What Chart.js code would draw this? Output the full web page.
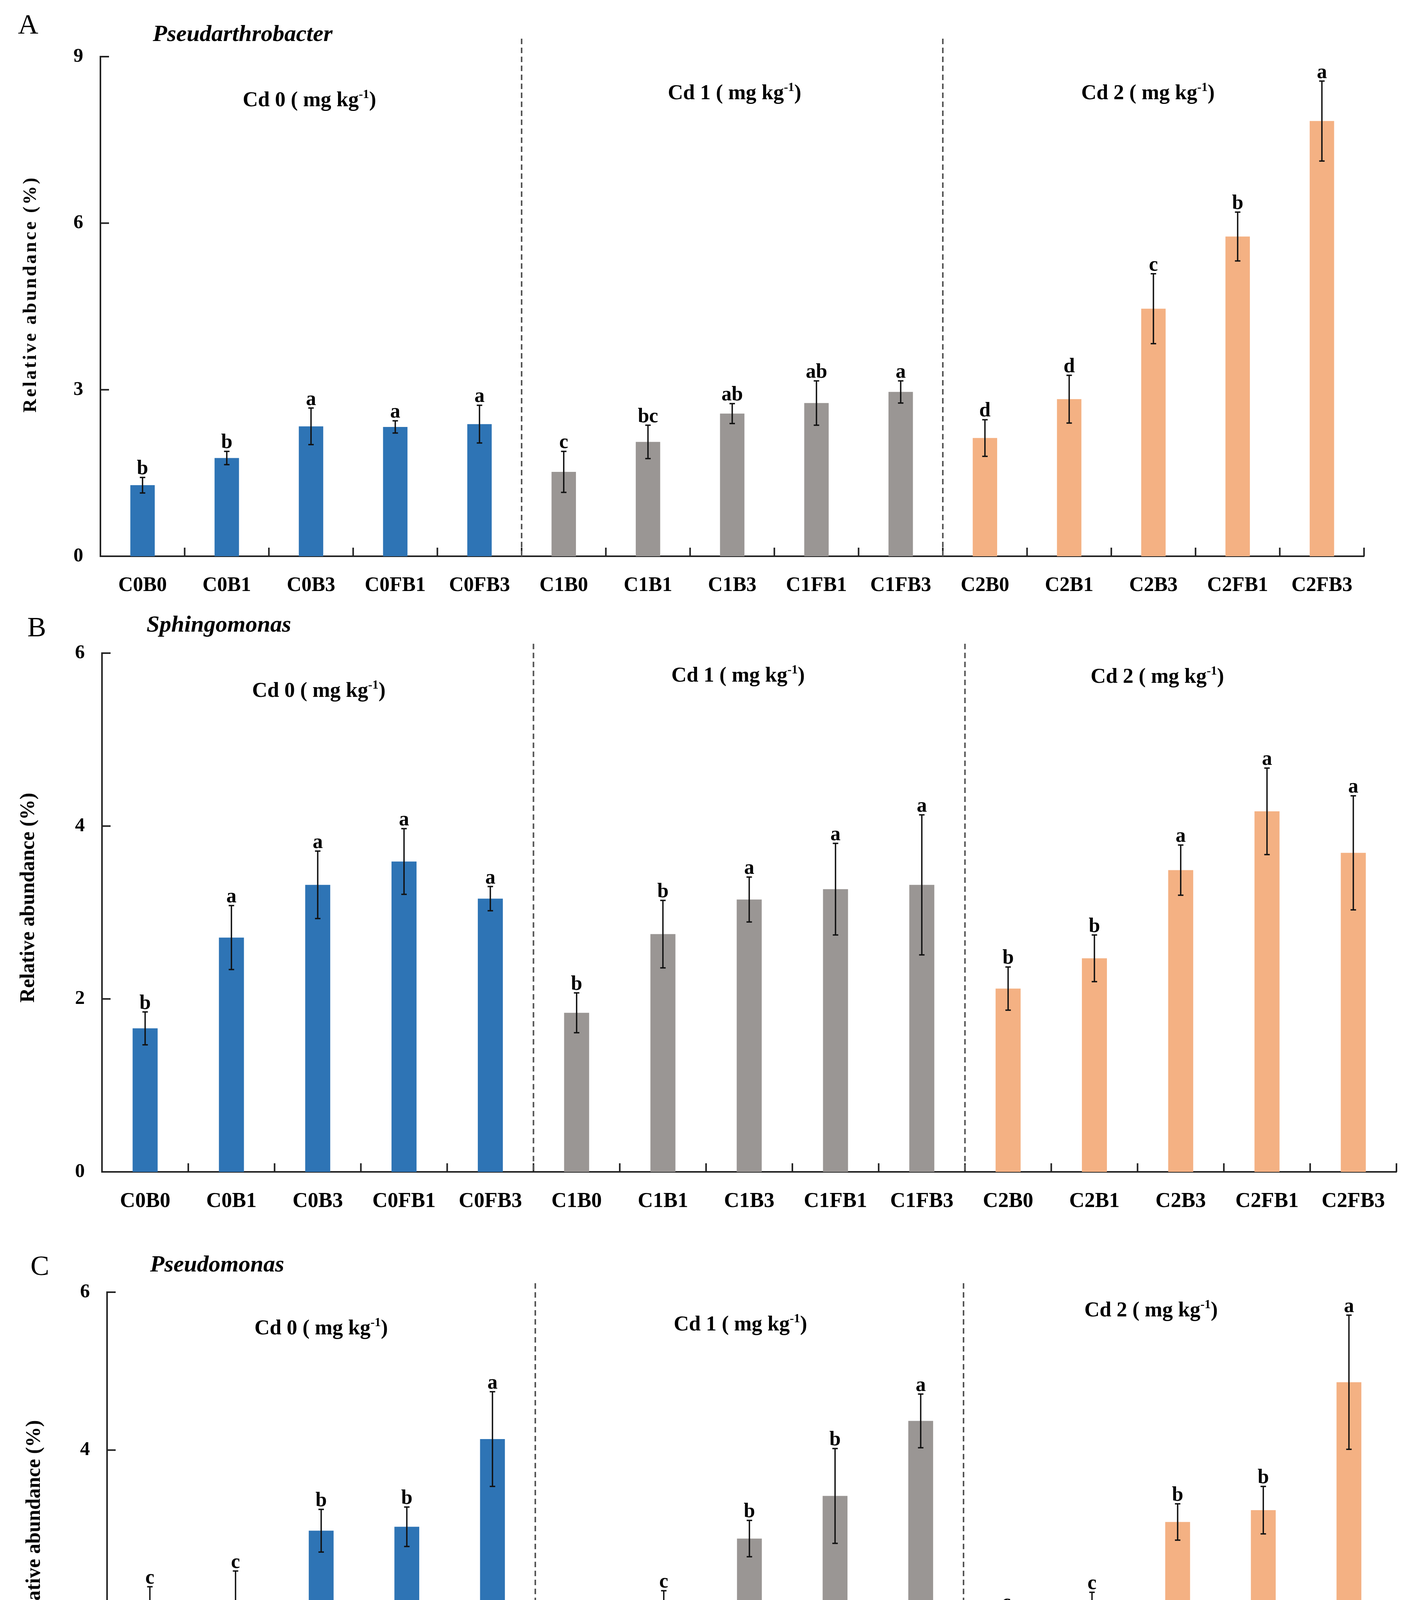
<!DOCTYPE html>
<html>
<head>
<meta charset="utf-8">
<script src="https://cdn.jsdelivr.net/npm/chart.js@4.4.1/dist/chart.umd.min.js"></script>
<style>
  html, body { margin: 0; padding: 0; background: #fff; overflow: hidden; }
  #wrap { position: relative; width: 3601px; height: 4638px; background: #fff; }
  canvas { position: absolute; left: 0; }
</style>
</head>
<body>
<div id="wrap">
  <canvas id="panelA" width="3601" height="1560" style="top:0px"></canvas>
  <canvas id="panelB" width="3601" height="1600" style="top:1560px"></canvas>
  <canvas id="panelC" width="3601" height="1478" style="top:3160px"></canvas>
</div>
<script>
// ── data ────────────────────────────────────────────────
const categories = ['C0B0', 'C0B1', 'C0B3', 'C0FB1', 'C0FB3',
                    'C1B0', 'C1B1', 'C1B3', 'C1FB1', 'C1FB3',
                    'C2B0', 'C2B1', 'C2B3', 'C2FB1', 'C2FB3'];
const groupNames = ['Cd 0', 'Cd 1', 'Cd 2'];

// A: Pseudarthrobacter
const meansA   = [1.28, 1.77, 2.34, 2.33, 2.38, 1.52, 2.06, 2.57, 2.76, 2.96, 2.13, 2.83, 4.46, 5.76, 7.84];
const errorsA  = [0.14, 0.12, 0.33, 0.11, 0.34, 0.37, 0.30, 0.18, 0.40, 0.20, 0.33, 0.43, 0.63, 0.44, 0.72];
const lettersA = ['b', 'b', 'a', 'a', 'a', 'c', 'bc', 'ab', 'ab', 'a', 'd', 'd', 'c', 'b', 'a'];
const ticksA   = [0, 3, 6, 9];

// B: Sphingomonas
const meansB   = [1.66, 2.71, 3.32, 3.59, 3.16, 1.84, 2.75, 3.15, 3.27, 3.32, 2.12, 2.47, 3.49, 4.17, 3.69];
const errorsB  = [0.19, 0.37, 0.39, 0.38, 0.14, 0.23, 0.39, 0.26, 0.53, 0.81, 0.25, 0.27, 0.29, 0.50, 0.66];
const lettersB = ['b', 'a', 'a', 'a', 'a', 'b', 'b', 'a', 'a', 'a', 'b', 'b', 'a', 'a', 'a'];
const ticksB   = [0, 2, 4, 6];

// C: Pseudomonas
const meansC   = [1.87, 2.06, 2.98, 3.03, 4.14, 1.57, 1.91, 2.88, 3.42, 4.37, 1.60, 1.87, 3.09, 3.24, 4.86];
const errorsC  = [0.40, 0.41, 0.27, 0.25, 0.60, 0.30, 0.31, 0.23, 0.60, 0.34, 0.36, 0.33, 0.23, 0.30, 0.85];
const lettersC = ['c', 'c', 'b', 'b', 'a', 'c', 'c', 'b', 'b', 'a', 'c', 'c', 'b', 'b', 'a'];
const ticksC   = [0, 2, 4, 6];

// ── style ───────────────────────────────────────────────
const SERIF = '"Liberation Serif", "Times New Roman", serif';
const GROUP_COLORS = ['#2E74B5', '#9A9694', '#F4B183'];

// panel layout (canvas-local pixels)
const panels = [
  { id: 'panelA', tag: 'A', genus: 'Pseudarthrobacter', means: meansA, errors: errorsA, letters: lettersA, ticks: ticksA,
    area: { left: 257, right: 3491, top: 145, bottom: 1424 }, h: 1560,
    tagPos: [46, 86], genusPos: [391, 105], dashTop: 99,
    groupPos: [[792, 258], [1880, 240], [2938, 240]],
    yTitle: { x: 80, y: 753, size: 48, spacing: '5px' }, xFont: 52 },
  { id: 'panelB', tag: 'B', genus: 'Sphingomonas', means: meansB, errors: errorsB, letters: lettersB, ticks: ticksB,
    area: { left: 261, right: 3574, top: 112, bottom: 1440 }, h: 1600,
    tagPos: [70, 69], genusPos: [375, 57], dashTop: 88,
    groupPos: [[816, 210], [1889, 171], [2962, 174]],
    yTitle: { x: 74, y: 738, size: 52, spacing: '0px' }, xFont: 54 },
  { id: 'panelC', tag: 'C', genus: 'Pseudomonas', means: meansC, errors: errorsC, letters: lettersC, ticks: ticksC,
    area: { left: 274, right: 3562, top: 148, bottom: 1361 }, h: 1478,
    tagPos: [78, 104], genusPos: [384, 95], dashTop: 125,
    groupPos: [[822, 242], [1895, 232], [2946, 196]],
    yTitle: { x: 89, y: 744, size: 52, spacing: '0px' }, xFont: 54 }
];

function drawGroupLabel(ctx, name, cx, cy) {
  const main = name + ' ( mg kg', sup = '-1', tail = ')';
  const big = 'bold 54px ' + SERIF, small = 'bold 32px ' + SERIF;
  ctx.font = big;  const w1 = ctx.measureText(main).width, w3 = ctx.measureText(tail).width;
  ctx.font = small; const w2 = ctx.measureText(sup).width;
  let x = cx - (w1 + w2 + w3) / 2;
  ctx.textAlign = 'left';
  ctx.textBaseline = 'middle';
  ctx.font = big;   ctx.fillText(main, x, cy); x += w1;
  ctx.font = small; ctx.fillText(sup, x, cy - 15); x += w2;
  ctx.font = big;   ctx.fillText(tail, x, cy);
}

function decorPlugin(p) {
  return {
    id: 'decor' + p.tag,
    afterDatasetsDraw(chart) {
      const ctx = chart.ctx, ys = chart.scales.y;
      const bars = chart.getDatasetMeta(0).data;
      ctx.save();
      ctx.strokeStyle = '#111';
      ctx.lineWidth = 3.5;
      ctx.fillStyle = '#000';
      bars.forEach((bar, i) => {
        const hi = ys.getPixelForValue(p.means[i] + p.errors[i]);
        const lo = ys.getPixelForValue(p.means[i] - p.errors[i]);
        ctx.beginPath();
        ctx.moveTo(bar.x, hi); ctx.lineTo(bar.x, lo);
        ctx.moveTo(bar.x - 7, hi); ctx.lineTo(bar.x + 7, hi);
        ctx.moveTo(bar.x - 7, lo); ctx.lineTo(bar.x + 7, lo);
        ctx.stroke();
        ctx.font = 'bold 52px ' + SERIF;
        ctx.textAlign = 'center';
        ctx.textBaseline = 'alphabetic';
        ctx.fillText(p.letters[i], bar.x, hi - 8);
      });
      ctx.restore();
    },
    afterDraw(chart) {
      const ctx = chart.ctx, xs = chart.scales.x, ys = chart.scales.y, a = chart.chartArea;
      const half = (xs.getPixelForValue(1) - xs.getPixelForValue(0)) / 2;
      const edge = i => xs.getPixelForValue(0) - half + i * 2 * half;
      ctx.save();
      // inward tick marks
      ctx.strokeStyle = '#222';
      ctx.lineWidth = 4;
      ctx.beginPath();
      ys.ticks.forEach(t => {
        const py = ys.getPixelForValue(t.value);
        ctx.moveTo(a.left, py); ctx.lineTo(a.left + 22, py);
      });
      for (let i = 0; i <= categories.length; i++) {
        const px = edge(i);
        ctx.moveTo(px, a.bottom); ctx.lineTo(px, a.bottom - 22);
      }
      ctx.stroke();
      // dashed separators between Cd groups
      ctx.strokeStyle = '#555';
      ctx.lineWidth = 4;
      ctx.setLineDash([14, 9]);
      [5, 10].forEach(i => {
        ctx.beginPath();
        ctx.moveTo(edge(i), p.dashTop);
        ctx.lineTo(edge(i), a.bottom);
        ctx.stroke();
      });
      ctx.setLineDash([]);
      // texts
      ctx.fillStyle = '#000';
      ctx.textAlign = 'left';
      ctx.textBaseline = 'alphabetic';
      ctx.font = '72px ' + SERIF;
      ctx.fillText(p.tag, p.tagPos[0], p.tagPos[1]);
      ctx.font = 'italic bold 60px ' + SERIF;
      ctx.fillText(p.genus, p.genusPos[0], p.genusPos[1]);
      groupNames.forEach((g, k) => drawGroupLabel(ctx, g, p.groupPos[k][0], p.groupPos[k][1]));
      // y-axis title
      ctx.translate(p.yTitle.x, p.yTitle.y);
      ctx.rotate(-Math.PI / 2);
      ctx.font = 'bold ' + p.yTitle.size + 'px ' + SERIF;
      ctx.letterSpacing = p.yTitle.spacing;
      ctx.textAlign = 'center';
      ctx.textBaseline = 'middle';
      ctx.fillText('Relative abundance (%)', 0, 0);
      ctx.restore();
    }
  };
}

panels.forEach(p => {
  const canvas = document.getElementById(p.id);
  const yWidth = 200;
  new Chart(canvas.getContext('2d'), {
    type: 'bar',
    data: {
      labels: categories,
      datasets: [{
        data: p.means,
        backgroundColor: categories.map((_, i) => GROUP_COLORS[Math.floor(i / 5)]),
        borderWidth: 0,
        barPercentage: 0.29,
        categoryPercentage: 1.0
      }]
    },
    options: {
      responsive: false,
      devicePixelRatio: 1,
      animation: false,
      layout: {
        padding: { left: p.area.left - yWidth, right: 3601 - p.area.right, top: p.area.top, bottom: 0 }
      },
      plugins: { legend: { display: false }, tooltip: { enabled: false } },
      scales: {
        x: {
          offset: true,
          grid: { display: false },
          border: { display: true, color: '#222', width: 4 },
          ticks: { color: '#000', padding: 36, maxRotation: 0, autoSkip: false,
                   font: { family: SERIF, size: p.xFont, weight: 'bold' } },
          afterFit: s => { s.height = p.h - p.area.bottom; }
        },
        y: {
          min: 0,
          max: p.ticks[p.ticks.length - 1],
          afterBuildTicks: s => { s.ticks = p.ticks.map(v => ({ value: v })); },
          grid: { display: false },
          border: { display: true, color: '#222', width: 4 },
          ticks: { color: '#000', padding: 36,
                   font: { family: SERIF, size: 50, weight: 'bold' } },
          afterFit: s => { s.width = yWidth; }
        }
      }
    },
    plugins: [decorPlugin(p)]
  });
});
</script>
</body>
</html>
